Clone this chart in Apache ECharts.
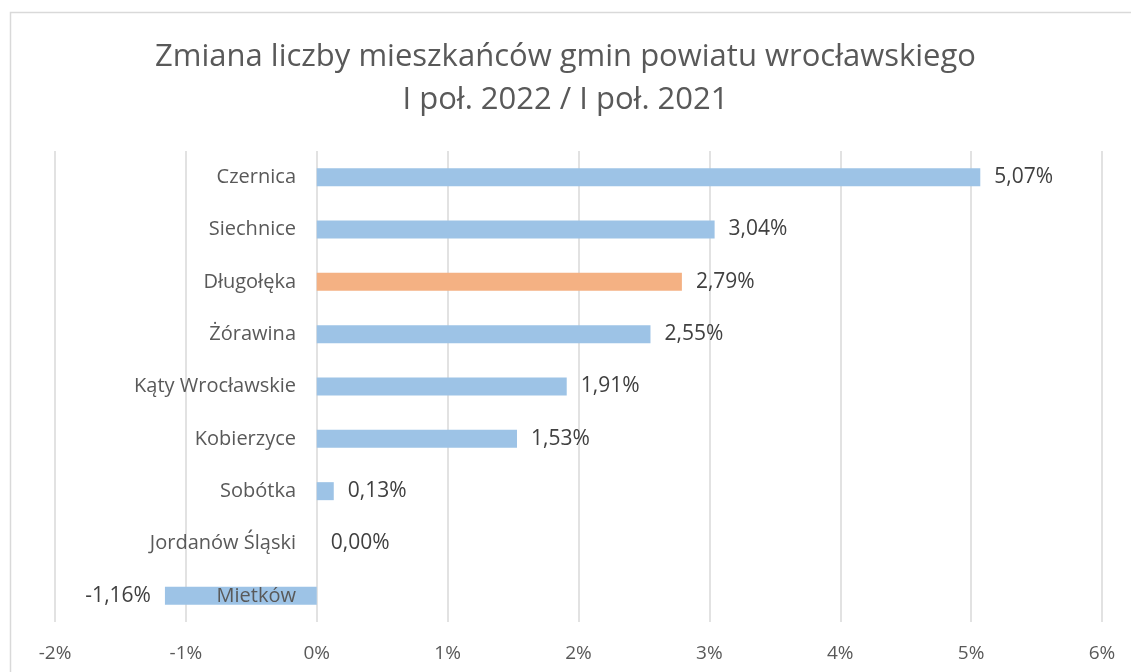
<!DOCTYPE html>
<html>
<head>
<meta charset="utf-8">
<script src="https://cdn.jsdelivr.net/npm/echarts@6/dist/echarts.min.js"></script>
<style>
html, body { margin: 0; padding: 0; background: #fff; }
#chart { width: 1131px; height: 672px; }
</style>
</head>
<body>
<div id="chart"></div>
<script>
let gminy = ['Czernica', 'Siechnice', 'Długołęka', 'Żórawina', 'Kąty Wrocławskie', 'Kobierzyce', 'Sobótka', 'Jordanów Śląski', 'Mietków'];
let zmiana = [5.07, 3.04, 2.79, 2.55, 1.91, 1.53, 0.13, 0.00, -1.16];
let wyrozniona = 'Długołęka';

let font = '"Open Sans", sans-serif';

let myChart = echarts.init(document.getElementById('chart'));
let option = {
    backgroundColor: '#fff',
    title: {
        text: 'Zmiana liczby mieszkańców gmin powiatu wrocławskiego\nI poł. 2022 / I poł. 2021',
        left: 'center',
        top: 31,
        textStyle: {
            fontFamily: font,
            fontSize: 31,
            fontWeight: 'normal',
            color: '#595959',
            lineHeight: 43
        }
    },
    graphic: [{
        type: 'rect',
        shape: {x: 10.5, y: 12.5, width: 1140, height: 680},
        style: {fill: 'none', stroke: '#d9d9d9', lineWidth: 1.5},
        silent: true
    }],
    grid: {
        left: 55,
        right: 29,
        top: 151,
        bottom: 50,
        outerBoundsMode: 'none'
    },
    xAxis: {
        type: 'value',
        min: -2,
        max: 6,
        interval: 1,
        axisLine: {show: false},
        axisTick: {show: false},
        axisLabel: {
            margin: 22,
            fontFamily: font,
            fontSize: 19,
            color: '#595959',
            formatter: function (v) { return v + '%'; }
        },
        splitLine: {lineStyle: {color: '#d9d9d9', width: 1.5}}
    },
    yAxis: {
        type: 'category',
        data: gminy,
        inverse: true,
        // oś kategorii przesunięta na 0% (z -2% na lewej krawędzi)
        offset: -262,
        axisLine: {show: false, onZero: false},
        axisTick: {show: false},
        axisLabel: {
            margin: 21,
            fontFamily: font,
            fontSize: 20,
            color: '#595959'
        },
        z: 3
    },
    series: [{
        type: 'bar',
        barWidth: 18,
        data: zmiana.map(function (v, i) {
            return {
                value: v,
                itemStyle: {color: gminy[i] === wyrozniona ? '#f4b183' : '#9dc3e6'},
                label: {position: v < 0 ? 'left' : 'right'}
            };
        }),
        label: {
            show: true,
            distance: 14,
            fontFamily: font,
            fontSize: 21,
            color: '#404040',
            formatter: function (p) { return p.value.toFixed(2).replace('.', ',') + '%'; }
        },
        z: 1
    }]
};
myChart.setOption(option);
</script>
</body>
</html>
